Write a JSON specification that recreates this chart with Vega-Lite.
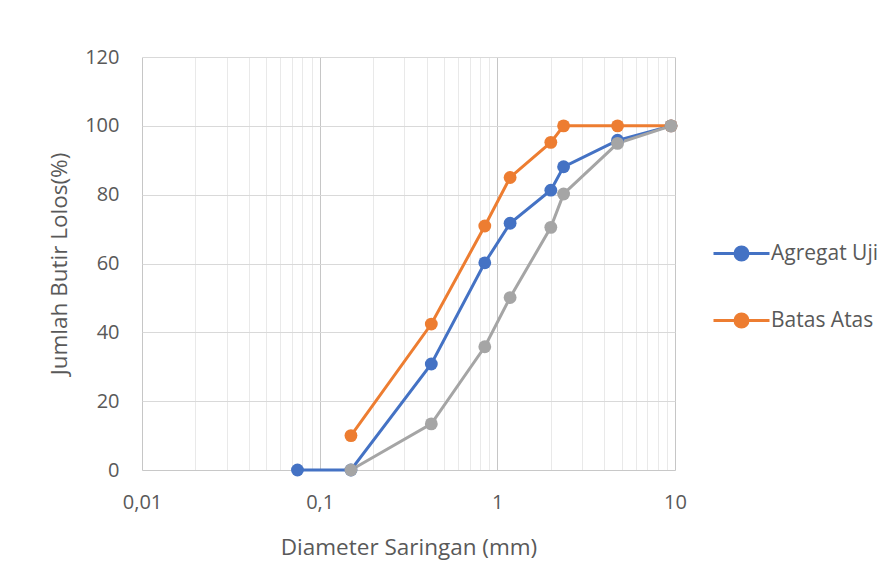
{
  "$schema": "https://vega.github.io/schema/vega-lite/v6.json",
  "width": 533,
  "height": 413,
  "autosize": {"type": "none"},
  "padding": {"left": 142, "top": 57, "right": 215, "bottom": 113},
  "background": "white",
  "config": {
    "view": {"stroke": null},
    "font": "Open Sans",
    "axis": {"labelColor": "#595959", "titleColor": "#595959", "labelFont": "Open Sans", "titleFont": "Open Sans", "labelFontWeight": "normal", "titleFontWeight": "normal"}
  },
  "data": {
    "values": [
      {"series": "Agregat Uji", "d": 0.075, "p": 0},
      {"series": "Agregat Uji", "d": 0.15, "p": 0},
      {"series": "Agregat Uji", "d": 0.425, "p": 30.8},
      {"series": "Agregat Uji", "d": 0.85, "p": 60.2},
      {"series": "Agregat Uji", "d": 1.18, "p": 71.7},
      {"series": "Agregat Uji", "d": 2.0, "p": 81.3},
      {"series": "Agregat Uji", "d": 2.36, "p": 88.1},
      {"series": "Agregat Uji", "d": 4.75, "p": 95.8},
      {"series": "Agregat Uji", "d": 9.5, "p": 100},
      {"series": "Batas Atas", "d": 0.15, "p": 10},
      {"series": "Batas Atas", "d": 0.425, "p": 42.4},
      {"series": "Batas Atas", "d": 0.85, "p": 70.9},
      {"series": "Batas Atas", "d": 1.18, "p": 85},
      {"series": "Batas Atas", "d": 2.0, "p": 95.2},
      {"series": "Batas Atas", "d": 2.36, "p": 100},
      {"series": "Batas Atas", "d": 4.75, "p": 100},
      {"series": "Batas Atas", "d": 9.5, "p": 100},
      {"series": "Batas Bawah", "d": 0.15, "p": 0},
      {"series": "Batas Bawah", "d": 0.425, "p": 13.4},
      {"series": "Batas Bawah", "d": 0.85, "p": 35.8},
      {"series": "Batas Bawah", "d": 1.18, "p": 50.1},
      {"series": "Batas Bawah", "d": 2.0, "p": 70.5},
      {"series": "Batas Bawah", "d": 2.36, "p": 80.2},
      {"series": "Batas Bawah", "d": 4.75, "p": 94.9},
      {"series": "Batas Bawah", "d": 9.5, "p": 100}
    ]
  },
  "encoding": {
    "x": {
      "field": "d", "type": "quantitative",
      "scale": {"type": "log", "domain": [0.01, 10], "nice": false},
      "axis": {
        "title": "Diameter Saringan (mm)",
        "values": [0.01, 0.02, 0.03, 0.04, 0.05, 0.06, 0.07, 0.08, 0.09, 0.1, 0.2, 0.3, 0.4, 0.5, 0.6, 0.7, 0.8, 0.9, 1, 2, 3, 4, 5, 6, 7, 8, 9, 10],
        "labelExpr": "datum.value == 0.01 ? '0,01' : datum.value == 0.1 ? '0,1' : datum.value == 1 ? '1' : datum.value == 10 ? '10' : ''",
        "labelOverlap": false,
        "labelFlush": false,
        "labelBound": false,
        "labelFontSize": 20,
        "titleFontSize": 22.5,
        "labelPadding": 22,
        "titlePadding": 24,
        "ticks": false,
        "domain": true,
        "domainColor": "#c8c8c8",
        "domainWidth": 1,
        "grid": true,
        "gridColor": {"condition": {"test": "datum.value == 0.01 || datum.value == 0.1 || datum.value == 1 || datum.value == 10", "value": "#c6c6c6"}, "value": "#e9e9e9"},
        "gridWidth": 1
      }
    },
    "y": {
      "field": "p", "type": "quantitative",
      "scale": {"domain": [0, 120], "nice": false},
      "axis": {
        "title": "Jumlah Butir Lolos(%)",
        "values": [0, 20, 40, 60, 80, 100, 120],
        "labelFontSize": 20,
        "titleFontSize": 22.5,
        "labelPadding": 23,
        "titlePadding": 13,
        "labelFlush": false,
        "ticks": false,
        "domain": false,
        "grid": true,
        "gridColor": "#d9d9d9",
        "gridWidth": 1
      }
    },
    "color": {
      "field": "series", "type": "nominal",
      "scale": {"domain": ["Agregat Uji", "Batas Atas", "Batas Bawah"], "range": ["#4472C4", "#ED7D31", "#A5A5A5"]},
      "legend": {
        "title": null,
        "values": ["Agregat Uji", "Batas Atas"],
        "orient": "none",
        "legendX": 570,
        "legendY": 167,
        "symbolType": "M-1,0H1M-0.232,0A0.232,0.232,0,1,1,0.232,0A0.232,0.232,0,1,1,-0.232,0Z",
        "symbolSize": 3136,
        "symbolStrokeWidth": 3,
        "labelFontSize": 21,
        "labelColor": "#595959",
        "labelFont": "Open Sans",
        "labelOffset": 0,
        "rowPadding": 25,
        "encode": {
          "symbols": {"update": {"fill": {"scale": "color", "field": "value"}, "stroke": {"scale": "color", "field": "value"}, "opacity": {"value": 1}}}
        }
      }
    }
  },
  "layer": [
    {"mark": {"type": "line", "strokeWidth": 3}},
    {"mark": {"type": "point", "filled": true, "size": 165, "opacity": 1}}
  ]
}
